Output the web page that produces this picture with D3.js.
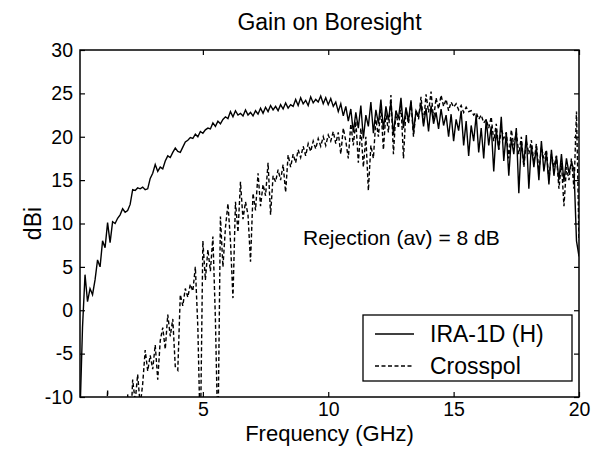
<!DOCTYPE html>
<html>
<head>
<meta charset="utf-8">
<script src="https://cdn.jsdelivr.net/npm/d3@7"></script>
<style>
  body { margin: 0; background: #fff; }
  svg { font-family: "Liberation Sans", Arial, sans-serif; }
</style>
</head>
<body>
<svg id="chart"></svg>
<script>
const width = 601;
const height = 452;

// measurement grid, 0.1 GHz steps from 0.1 to 20 GHz
const freqs = d3.range(1, 201).map(i => i / 10);

const xTicks = [5, 10, 15, 20];
const yTicks = [-10, -5, 0, 5, 10, 15, 20, 25, 30];

// co-polar gain, IRA-1D (H)
const copol = [
  -12, -2, 4.1, 1.0, 2.5, 1.8, 3.5, 5.8, 5.0, 8.0,
  7.2, 10.1, 7.8, 10.2, 10.0, 10.6, 11.0, 11.7, 11.3, 11.5,
  12.2, 13.9, 13.8, 14.1, 14.0, 14.2, 13.9, 14.0, 15.2, 15.8,
  16.8, 16.0, 16.5, 16.3, 17.2, 17.8, 17.6, 18.2, 18.7, 18.3,
  18.2, 18.8, 19.4, 19.6, 19.9, 19.8, 20.3, 20.0, 20.6, 20.4,
  20.8, 21.0, 20.9, 21.6, 21.2, 21.8, 21.5, 22.0, 22.3, 22.1,
  22.9, 22.3, 23.0, 22.5, 22.7, 22.4, 23.1, 22.5, 22.8, 22.4,
  23.0, 22.6, 23.3, 22.7, 23.4, 22.9, 23.6, 23.1, 23.5, 23.0,
  23.7, 23.2, 23.9, 23.3, 23.7, 23.5, 24.3, 23.6, 24.5, 23.8,
  24.2, 23.6, 24.6, 23.9, 24.3, 24.0, 24.7, 23.8, 24.5, 23.7,
  24.4, 23.5, 24.0, 22.9, 23.8, 22.4, 23.5, 21.8, 23.2, 20.5,
  22.8, 21.0, 23.6, 19.8, 22.5, 21.2, 24.0, 20.4, 23.1, 21.5,
  24.3, 20.8, 23.5, 21.9, 24.0, 20.2, 23.0, 22.1, 24.5, 21.0,
  23.4, 21.8, 24.2, 20.5, 23.0, 22.4, 23.8, 21.2, 23.3, 20.6,
  23.6, 21.5, 22.8, 20.9, 23.2, 21.3, 22.5, 20.0, 22.6, 19.5,
  22.0, 20.7, 23.0, 19.0, 21.8, 17.8, 21.3, 19.5, 22.5, 18.2,
  21.0, 17.5, 22.0, 19.0, 21.2, 16.0, 20.8, 18.5, 22.3, 17.2,
  20.5, 15.5, 19.8, 18.0, 21.0, 13.5, 19.5, 16.8, 20.2, 14.0,
  19.0, 16.5, 18.8, 15.0, 19.5, 16.0, 18.2, 14.5, 18.5, 15.5,
  17.8, 15.0, 18.0, 14.8, 17.5, 15.8, 17.0, 16.2, 8.0, 6.2
];

// cross-polar gain
const xpol = [
  -20, -20, -20, -20, -20, -20, -20, -20, -20, -20,
  -18, -9.2, -18, -20, -20, -20, -20, -20, -20, -9.7,
  -15, -8.0, -10.5, -7.4, -11, -8.5, -4.6, -7.0, -5.2, -6.8,
  -4.0, -8.0, -3.5, -2.0, -4.5, -0.5, -3.0, -1.0, -6.5, -6.9,
  1.8, 0.5, 2.5, 1.5, 3.0, 2.2, 5.0, -2.0, -15, 8.0,
  3.5, 7.0, 4.5, 8.5, -1.0, -15, 10.8, 5.0, 9.5, 12.3,
  8.0, 1.4, 12.5, 9.0, 14.8, 10.5, 12.5, 11.0, 5.6, 13.5,
  11.5, 15.8, 12.0, 14.5, 13.2, 17.0, 11.0, 15.5, 14.8, 16.2,
  15.0, 16.8, 13.6, 17.9, 16.5, 18.0, 17.0, 18.5, 17.6, 18.9,
  17.8, 19.2, 18.3, 19.5, 18.6, 19.8, 18.9, 20.0, 19.0, 20.2,
  19.5, 20.6, 19.2, 20.5, 18.0, 21.0, 19.5, 17.5, 21.5, 19.0,
  21.8, 17.0, 21.0, 16.5, 20.0, 13.8, 19.0, 17.5, 22.0, 20.0,
  23.5, 18.5, 22.8, 20.5, 24.8, 18.0, 23.0, 21.0, 23.8, 17.5,
  23.2, 21.5, 24.0, 20.0, 23.0, 22.0, 24.6, 21.5, 24.9, 22.8,
  25.2, 22.0, 24.5, 23.2, 24.8, 23.5, 24.3, 23.0, 24.0, 23.4,
  23.8, 23.1, 23.6, 22.8, 23.4, 22.9, 23.0, 22.5, 22.8, 22.0,
  22.5, 21.6, 22.0, 21.0, 22.3, 19.5, 21.5, 18.5, 21.0, 19.8,
  20.5, 17.5, 20.8, 19.0, 20.5, 18.0, 20.0, 16.5, 19.5, 18.0,
  19.6, 17.0, 19.2, 16.0, 18.8, 17.5, 18.5, 15.0, 18.0, 16.5,
  17.8, 14.0, 17.0, 12.0, 16.5, 15.0, 17.5, 14.0, 22.9, 8.0
];

const seriesNames = ["IRA-1D (H)", "Crosspol"];

const margin = {left: 80, right: 22, top: 50, bottom: 55};
const x = d3.scaleLinear().domain([0.1, 20]).range([margin.left, width - margin.right]);
const y = d3.scaleLinear().domain([-10, 30]).range([height - margin.bottom, margin.top]);

const svg = d3.select('#chart').attr('width', width).attr('height', height);

svg.append('clipPath').attr('id', 'plotclip')
  .append('rect')
  .attr('x', x.range()[0]).attr('y', y.range()[1])
  .attr('width', x.range()[1] - x.range()[0])
  .attr('height', y.range()[0] - y.range()[1]);

const line = d3.line()
  .x((d, i) => x(freqs[i]))
  .y(d => y(d));

const plot = svg.append('g').attr('clip-path', 'url(#plotclip)');

plot.append('path')
  .datum(xpol)
  .attr('d', line)
  .attr('fill', 'none')
  .attr('stroke', '#000')
  .attr('stroke-width', 1.4)
  .attr('stroke-dasharray', '4,2.5');

plot.append('path')
  .datum(copol)
  .attr('d', line)
  .attr('fill', 'none')
  .attr('stroke', '#000')
  .attr('stroke-width', 1.4);

// axes, box style with inward ticks
const tickSize = 5;
const fmt = d => String(d);   // plain hyphen minus like the original
const axisStyle = g => {
  g.select('.domain').remove();
  g.selectAll('.tick line').attr('stroke', '#000').attr('stroke-width', 1.2);
  g.selectAll('.tick text').attr('font-size', 19.5).attr('fill', '#000');
};

svg.append('g')
  .attr('transform', `translate(0,${y.range()[0]})`)
  .call(d3.axisBottom(x).tickValues(xTicks).tickFormat(fmt).tickSizeInner(-tickSize).tickSizeOuter(0).tickPadding(5))
  .call(axisStyle);

svg.append('g')
  .attr('transform', `translate(0,${y.range()[1]})`)
  .call(d3.axisTop(x).tickValues(xTicks).tickSizeInner(-tickSize).tickSizeOuter(0).tickFormat(''))
  .call(axisStyle);

svg.append('g')
  .attr('transform', `translate(${x.range()[0]},0)`)
  .call(d3.axisLeft(y).tickValues(yTicks).tickFormat(fmt).tickSizeInner(-tickSize).tickSizeOuter(0).tickPadding(7))
  .call(axisStyle);

svg.append('g')
  .attr('transform', `translate(${x.range()[1]},0)`)
  .call(d3.axisRight(y).tickValues(yTicks).tickSizeInner(-tickSize).tickSizeOuter(0).tickFormat(''))
  .call(axisStyle);

svg.append('rect')
  .attr('x', x.range()[0]).attr('y', y.range()[1])
  .attr('width', x.range()[1] - x.range()[0])
  .attr('height', y.range()[0] - y.range()[1])
  .attr('fill', 'none').attr('stroke', '#000').attr('stroke-width', 1.5);

// titles
const midX = (x.range()[0] + x.range()[1]) / 2;
svg.append('text')
  .attr('x', midX).attr('y', 30)
  .attr('text-anchor', 'middle').attr('font-size', 23)
  .text('Gain on Boresight');

svg.append('text')
  .attr('x', midX).attr('y', 441)
  .attr('text-anchor', 'middle').attr('font-size', 22)
  .text('Frequency (GHz)');

svg.append('text')
  .attr('transform', `translate(41,${(y.range()[0] + y.range()[1]) / 2}) rotate(-90)`)
  .attr('text-anchor', 'middle').attr('font-size', 23)
  .text('dBi');

svg.append('text')
  .attr('x', 303).attr('y', 245)
  .attr('font-size', 21)
  .text('Rejection (av) = 8 dB');

// legend
const legend = svg.append('g').attr('transform', 'translate(363,315)');
legend.append('rect')
  .attr('width', 209).attr('height', 66)
  .attr('fill', '#fff').attr('stroke', '#000').attr('stroke-width', 1.3);

seriesNames.forEach((name, i) => {
  const ly = 19 + i * 32;
  legend.append('line')
    .attr('x1', 12).attr('x2', 51).attr('y1', ly).attr('y2', ly)
    .attr('stroke', '#000').attr('stroke-width', 1.3)
    .attr('stroke-dasharray', i === 1 ? '4,2.5' : null);
  legend.append('text')
    .attr('x', 67).attr('y', ly + 8)
    .attr('font-size', 23)
    .text(name);
});
</script>
</body>
</html>
